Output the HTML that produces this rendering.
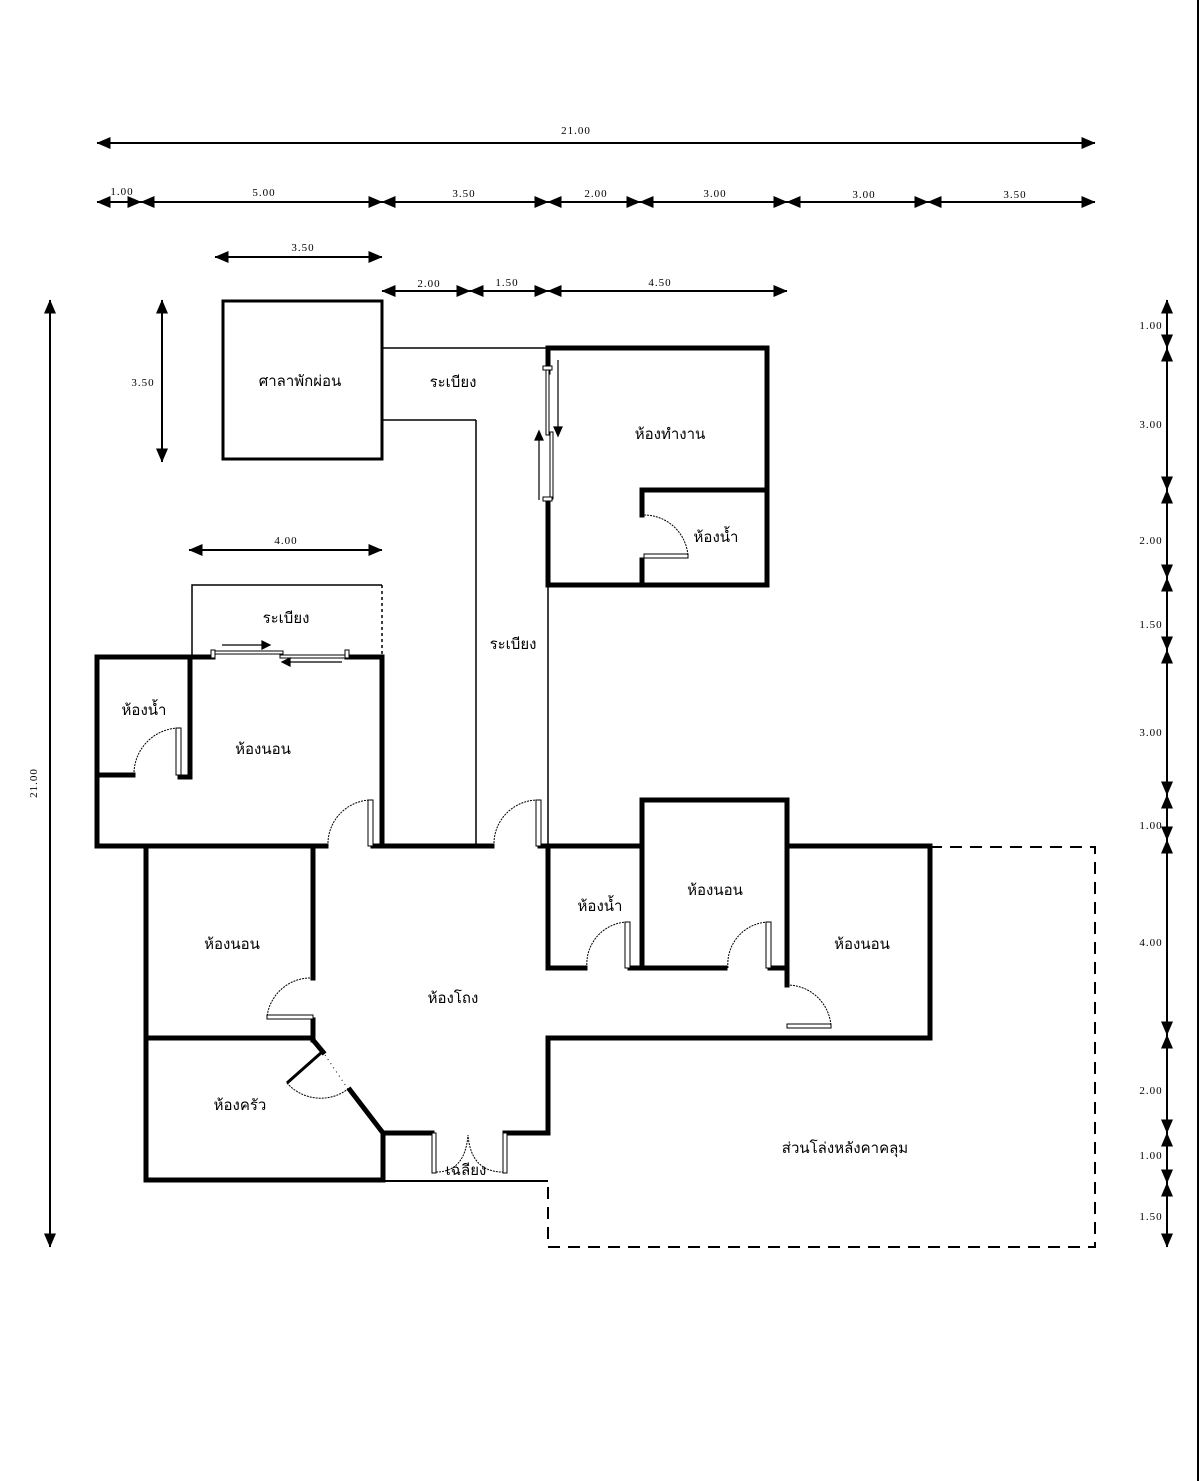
<!DOCTYPE html>
<html><head><meta charset="utf-8"><style>
html,body{margin:0;padding:0;background:#fff;}
svg{display:block}
text{font-family:"Liberation Serif","DejaVu Sans",serif;fill:#000;}
.d{font-size:11px;letter-spacing:1px}
.t{font-size:15px;font-family:"DejaVu Sans","Liberation Sans",sans-serif}
</style></head><body>
<svg width="1200" height="1481" viewBox="0 0 1200 1481" xmlns="http://www.w3.org/2000/svg">
<defs>
<marker id="a" viewBox="0 0 14 12" refX="13.5" refY="6" markerWidth="14" markerHeight="12" markerUnits="userSpaceOnUse" orient="auto-start-reverse"><path d="M0,0 L14,6 L0,12 Z" fill="#000"/></marker>
</defs>
<rect x="0" y="0" width="1200" height="1481" fill="#fff"/>
<line x1="1198" y1="0" x2="1198" y2="1481" stroke="#000" stroke-width="2"/>
<g stroke="#000" stroke-width="2" fill="none">
<line x1="97" y1="143" x2="1095" y2="143" marker-start="url(#a)" marker-end="url(#a)"/>
<line x1="97" y1="202" x2="141" y2="202" marker-start="url(#a)" marker-end="url(#a)"/>
<line x1="141" y1="202" x2="382" y2="202" marker-start="url(#a)" marker-end="url(#a)"/>
<line x1="382" y1="202" x2="548" y2="202" marker-start="url(#a)" marker-end="url(#a)"/>
<line x1="548" y1="202" x2="640" y2="202" marker-start="url(#a)" marker-end="url(#a)"/>
<line x1="640" y1="202" x2="787" y2="202" marker-start="url(#a)" marker-end="url(#a)"/>
<line x1="787" y1="202" x2="928" y2="202" marker-start="url(#a)" marker-end="url(#a)"/>
<line x1="928" y1="202" x2="1095" y2="202" marker-start="url(#a)" marker-end="url(#a)"/>
<line x1="215" y1="257" x2="382" y2="257" marker-start="url(#a)" marker-end="url(#a)"/>
<line x1="382" y1="291" x2="470" y2="291" marker-start="url(#a)" marker-end="url(#a)"/>
<line x1="470" y1="291" x2="548" y2="291" marker-start="url(#a)" marker-end="url(#a)"/>
<line x1="548" y1="291" x2="787" y2="291" marker-start="url(#a)" marker-end="url(#a)"/>
<line x1="189" y1="550" x2="382" y2="550" marker-start="url(#a)" marker-end="url(#a)"/>
<line x1="162" y1="300" x2="162" y2="462" marker-start="url(#a)" marker-end="url(#a)"/>
<line x1="50" y1="300" x2="50" y2="1247" marker-start="url(#a)" marker-end="url(#a)"/>
<line x1="1167" y1="300" x2="1167" y2="348" marker-start="url(#a)" marker-end="url(#a)"/>
<line x1="1167" y1="348" x2="1167" y2="490" marker-start="url(#a)" marker-end="url(#a)"/>
<line x1="1167" y1="490" x2="1167" y2="578" marker-start="url(#a)" marker-end="url(#a)"/>
<line x1="1167" y1="578" x2="1167" y2="650" marker-start="url(#a)" marker-end="url(#a)"/>
<line x1="1167" y1="650" x2="1167" y2="795" marker-start="url(#a)" marker-end="url(#a)"/>
<line x1="1167" y1="795" x2="1167" y2="840" marker-start="url(#a)" marker-end="url(#a)"/>
<line x1="1167" y1="840" x2="1167" y2="1035" marker-start="url(#a)" marker-end="url(#a)"/>
<line x1="1167" y1="1035" x2="1167" y2="1133" marker-start="url(#a)" marker-end="url(#a)"/>
<line x1="1167" y1="1133" x2="1167" y2="1183" marker-start="url(#a)" marker-end="url(#a)"/>
<line x1="1167" y1="1183" x2="1167" y2="1247" marker-start="url(#a)" marker-end="url(#a)"/>
</g>
<g class="d" text-anchor="middle">
<text x="576" y="134">21.00</text>
<text x="122" y="195">1.00</text><text x="264" y="196">5.00</text><text x="464" y="197">3.50</text>
<text x="596" y="197">2.00</text><text x="715" y="197">3.00</text><text x="864" y="198">3.00</text><text x="1015" y="198">3.50</text>
<text x="303" y="251">3.50</text>
<text x="429" y="287">2.00</text><text x="507" y="286">1.50</text><text x="660" y="286">4.50</text>
<text x="286" y="544">4.00</text>
<text x="143" y="386">3.50</text>
<text x="37" y="783" transform="rotate(-90 37 783)">21.00</text>
<text x="1151" y="329">1.00</text><text x="1151" y="428">3.00</text><text x="1151" y="544">2.00</text>
<text x="1151" y="628">1.50</text><text x="1151" y="736">3.00</text><text x="1151" y="829">1.00</text>
<text x="1151" y="946">4.00</text><text x="1151" y="1094">2.00</text><text x="1151" y="1159">1.00</text>
<text x="1151" y="1220">1.50</text>
</g>
<g stroke="#000" stroke-width="1.5" fill="none">
<rect x="223" y="301" width="159" height="158" stroke-width="3"/>
<line x1="382" y1="348" x2="548" y2="348"/>
<line x1="382" y1="420" x2="476" y2="420"/>
<line x1="476" y1="420" x2="476" y2="846"/>
<line x1="548" y1="500" x2="548" y2="846"/>
<polyline points="192,657 192,585 382,585"/>
<line x1="382" y1="585" x2="382" y2="657" stroke-dasharray="3,3"/>
<line x1="383" y1="1181" x2="548" y2="1181" stroke-width="2"/>
<polyline points="930,847 1095,847 1095,1247 548,1247 548,1180" stroke-width="2" stroke-dasharray="12,8"/>
</g>
<g stroke="#000" stroke-width="5" fill="none" stroke-linecap="square">
<polyline points="548,372 548,348 767,348 767,585 548,585 548,500"/>
<polyline points="642,515 642,490 767,490"/>
<line x1="642" y1="560" x2="642" y2="585"/>
<polyline points="213,657 97,657 97,846 326,846"/>
<line x1="347" y1="657" x2="382" y2="657"/>
<line x1="382" y1="657" x2="382" y2="846"/>
<line x1="190" y1="657" x2="190" y2="777"/>
<line x1="97" y1="775" x2="133" y2="775"/>
<line x1="180" y1="777" x2="190" y2="777"/>
<line x1="373" y1="846" x2="492" y2="846"/>
<line x1="540" y1="846" x2="642" y2="846"/>
<polyline points="146,846 146,1180 383,1180 383,1133 432,1133"/>
<line x1="313" y1="846" x2="313" y2="978"/>
<line x1="313" y1="1020" x2="313" y2="1040"/>
<line x1="146" y1="1038" x2="313" y2="1038"/>
<line x1="313" y1="1040" x2="323" y2="1052"/>
<line x1="350" y1="1090" x2="383" y2="1133"/>
<polyline points="505,1133 548,1133 548,1038 930,1038 930,846 787,846"/>
<polyline points="548,846 548,968 585,968"/>
<line x1="630" y1="968" x2="725" y2="968"/>
<line x1="770" y1="968" x2="787" y2="968"/>
<polyline points="642,968 642,800 787,800 787,985"/>
</g>
<g stroke="#000" stroke-width="1" fill="#fff">
<rect x="176" y="728" width="5" height="47"/><path d="M134,775 A46,46 0 0 1 178,728" fill="none" stroke-dasharray="2,1"/>
<rect x="368" y="800" width="5" height="46"/><path d="M328,846 A44,44 0 0 1 370,800" fill="none" stroke-dasharray="2,1"/>
<rect x="536" y="800" width="5" height="46"/><path d="M494,846 A44,44 0 0 1 538,800" fill="none" stroke-dasharray="2,1"/>
<rect x="625" y="922" width="5" height="46"/><path d="M587,968 A42,42 0 0 1 627,922" fill="none" stroke-dasharray="2,1"/>
<rect x="766" y="922" width="5" height="46"/><path d="M728,968 A42,42 0 0 1 768,922" fill="none" stroke-dasharray="2,1"/>
<rect x="787" y="1024" width="44" height="4"/><path d="M787,985 A44,44 0 0 1 831,1026" fill="none" stroke-dasharray="2,1"/>
<rect x="644" y="554" width="44" height="4"/><path d="M644,515 A44,44 0 0 1 688,556" fill="none" stroke-dasharray="2,1"/>
<rect x="267" y="1015" width="46" height="4"/><path d="M313,978 A44,44 0 0 0 267,1017" fill="none" stroke-dasharray="2,1"/>
<line x1="287" y1="1083" x2="322" y2="1052" stroke-width="3"/><path d="M287,1083 A45,45 0 0 0 348,1089" fill="none" stroke-dasharray="2,1"/>
<line x1="325" y1="1055" x2="348" y2="1089" stroke-dasharray="1,4"/>
<rect x="432" y="1133" width="4" height="40"/><rect x="503" y="1133" width="4" height="40"/>
<path d="M436,1172 Q465,1172 468,1135 Q471,1172 503,1172" fill="none" stroke-dasharray="2,1"/>
<rect x="213" y="651" width="70" height="3"/><rect x="280" y="655" width="67" height="3"/>
<rect x="211" y="650" width="4" height="8"/><rect x="345" y="650" width="4" height="8"/>
<rect x="546" y="368" width="3" height="67"/><rect x="550" y="432" width="3" height="67"/>
<rect x="543" y="366" width="9" height="4"/><rect x="543" y="497" width="9" height="4"/>
</g>
<g stroke="#000" stroke-width="1.2">
<line x1="222" y1="645" x2="262" y2="645"/><path d="M262,641 L270,645 L262,649Z" fill="#000"/>
<line x1="290" y1="662" x2="342" y2="662"/><path d="M290,658 L282,662 L290,666Z" fill="#000"/>
<line x1="558" y1="360" x2="558" y2="427"/><path d="M554,427 L558,436 L562,427Z" fill="#000"/>
<line x1="539" y1="440" x2="539" y2="500"/><path d="M535,440 L539,431 L543,440Z" fill="#000"/>
</g>
<g class="t" text-anchor="middle">
<text x="300" y="386">ศาลาพักผ่อน</text>
<text x="453" y="387">ระเบียง</text>
<text x="670" y="439">ห้องทำงาน</text>
<text x="716" y="542">ห้องน้ำ</text>
<text x="286" y="623">ระเบียง</text>
<text x="513" y="649">ระเบียง</text>
<text x="144" y="715">ห้องน้ำ</text>
<text x="263" y="754">ห้องนอน</text>
<text x="232" y="949">ห้องนอน</text>
<text x="453" y="1003">ห้องโถง</text>
<text x="240" y="1110">ห้องครัว</text>
<text x="600" y="911">ห้องน้ำ</text>
<text x="715" y="895">ห้องนอน</text>
<text x="862" y="949">ห้องนอน</text>
<text x="845" y="1153">ส่วนโล่งหลังคาคลุม</text>
<text x="466" y="1175">เฉลียง</text>
</g>
</svg>
</body></html>
